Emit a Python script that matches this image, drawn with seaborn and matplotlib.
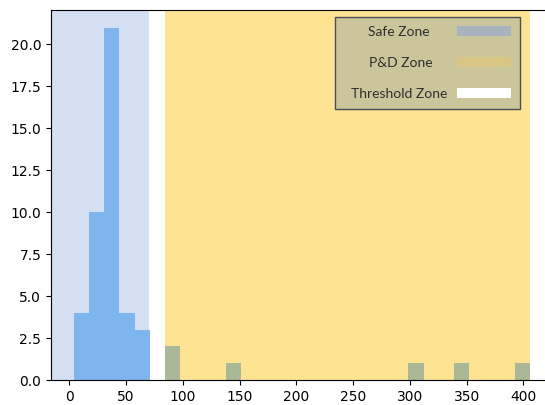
import numpy as np
import matplotlib
matplotlib.use("Agg")
import matplotlib.pyplot as plt
import matplotlib.patches as mpatches
import seaborn as sns

safe_values = [4, 9, 12, 15,
               18, 20, 21, 23, 24, 25, 26, 27, 28, 30,
               31, 32, 33, 33, 34, 35, 35, 36, 36, 37, 37, 38, 38, 39, 39, 40,
               40, 41, 42, 43, 44,
               45, 48, 51, 55,
               59, 63, 68]
pd_values = [86, 92, 145, 305, 346, 406]
values = safe_values + pd_values

# Zone limits
SAFE_MAX = 70
PD_MIN = 84
# trailing/leading spaces keep the labels roughly centred like the original
zone_labels = ["Safe Zone     ", "P&D Zone    ", "  Threshold Zone"]
zone_handle_colors = ["#a7b4bf", "#d9c785", "#ffffff"]

fig = plt.figure(figsize=(5.45, 4.05), dpi=100)
ax = fig.add_axes([51 / 545, 25 / 405, 502 / 545, 370 / 405])

sns.histplot(x=values, bins=30, color="#7fb5ef", alpha=1, linewidth=0, ax=ax, zorder=2)

# Bars inside the P&D zone look greyed out
for p in ax.patches:
    if p.get_x() >= PD_MIN - 1:
        p.set_facecolor("#aab897")

x0, x1 = ax.get_xlim()
ax.axvspan(x0, SAFE_MAX, color="#d5dff3", zorder=0, lw=0)
ax.axvspan(SAFE_MAX, PD_MIN, color="white", zorder=0, lw=0)
ax.axvspan(PD_MIN, max(values), color="#fee392", zorder=0, lw=0)
ax.set_xlim(x0, x1)

ax.set_xlabel("")
ax.set_ylabel("")

handles = [mpatches.Patch(facecolor=c, edgecolor="none") for c in zone_handle_colors]
leg = ax.legend(handles, zone_labels, loc="upper right", bbox_to_anchor=(0.934, 0.981),
                borderaxespad=0, markerfirst=False, fancybox=False,
                facecolor="#cbc59b", edgecolor="#4d4d58", framealpha=1,
                prop={"family": "Lato", "size": 10}, handlelength=3.9, handleheight=0.72,
                handletextpad=0.7, labelspacing=1.36, borderpad=0.65)
leg.get_frame().set_linewidth(1.0)
for t in leg.get_texts():
    t.set_color("#2e2e2e")

fig.savefig("out.png", dpi=100)
